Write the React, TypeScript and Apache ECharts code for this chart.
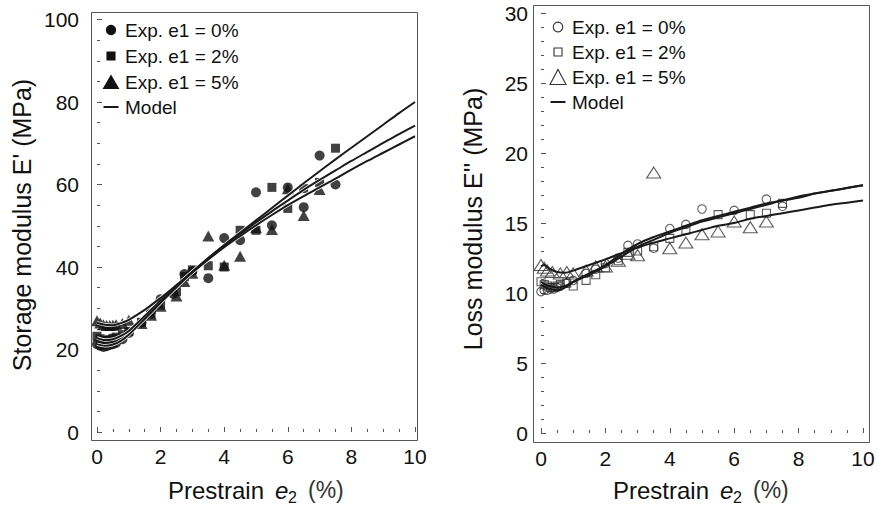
import React, { useEffect, useRef } from "react";
import * as echarts from "echarts";

// ---------- Storage modulus (left) ----------
const xs0L = [0, 0.1, 0.2, 0.3, 0.4, 0.5, 0.6, 0.8, 1.0, 1.4, 1.7, 2.0, 2.4, 2.75, 3.0, 3.5, 4.0, 4.5, 5.0, 5.5, 6.0, 6.5, 7.0, 7.5];
const ys0L = [21.3, 20.9, 20.6, 20.8, 21.1, 21.3, 21.6, 22.5, 24.0, 26.5, 29.3, 32.2, 33.5, 38.3, 39.0, 37.3, 47.0, 46.5, 58.1, 50.1, 59.3, 54.5, 67.0, 60.0];
const xs2L = [0, 0.1, 0.2, 0.3, 0.4, 0.5, 0.6, 0.8, 1.0, 1.4, 1.7, 2.0, 2.5, 2.75, 3.0, 3.5, 4.0, 4.5, 5.0, 5.5, 6.0, 6.5, 7.0, 7.5];
const ys2L = [23.2, 22.6, 22.2, 22.2, 22.4, 22.7, 23.0, 23.6, 24.4, 26.6, 28.6, 30.8, 34.0, 37.7, 39.3, 40.3, 40.0, 48.9, 48.9, 59.3, 54.2, 59.0, 60.5, 68.8];
const xs5L = [0, 0.1, 0.2, 0.3, 0.4, 0.5, 0.6, 0.8, 1.0, 1.4, 1.7, 2.0, 2.5, 2.75, 3.0, 3.5, 4.0, 4.5, 5.0, 5.5, 6.0, 6.5, 7.0];
const ys5L = [27.0, 26.4, 26.0, 25.8, 25.8, 25.9, 26.0, 26.3, 27.1, 26.3, 28.3, 30.5, 33.0, 36.5, 38.5, 47.5, 40.4, 42.6, 49.5, 49.1, 59.0, 52.5, 58.8];

const mxL = [0, 0.25, 0.5, 0.75, 1, 1.5, 2, 2.5, 3, 3.5, 4, 4.5, 5, 5.5, 6, 6.5, 7, 7.5, 8, 8.5, 9, 9.5, 10];
const m0L = [21.3, 20.9, 21.2, 22.1, 23.6, 27.4, 31.3, 35.1, 38.7, 42.1, 45.3, 48.3, 51.3, 54.3, 57.3, 60.3, 63.2, 66.1, 68.9, 71.7, 74.5, 77.3, 80.0];
const m2L = [22.8, 22.3, 22.5, 23.3, 24.5, 28.1, 31.9, 35.5, 38.9, 42.2, 45.2, 48.0, 50.8, 53.5, 56.1, 58.7, 61.1, 63.4, 65.7, 67.9, 70.1, 72.2, 74.3];
const m5L = [26.5, 26.0, 25.9, 26.4, 27.2, 29.6, 32.5, 35.6, 38.7, 41.8, 44.8, 47.5, 50.1, 52.6, 55.0, 57.2, 59.3, 61.4, 63.6, 65.7, 67.7, 69.7, 71.7];

// ---------- Loss modulus (right) ----------
const xs0R = [0, 0.1, 0.2, 0.3, 0.4, 0.5, 0.6, 0.8, 1.0, 1.4, 1.7, 2.0, 2.4, 2.7, 3.0, 3.5, 4.0, 4.5, 5.0, 6.0, 7.0, 7.5];
const ys0R = [10.1, 10.2, 10.2, 10.3, 10.3, 10.4, 10.5, 10.7, 10.9, 11.4, 11.7, 12.1, 12.5, 13.4, 13.5, 13.2, 14.6, 14.9, 16.0, 15.9, 16.7, 16.2];
const xs2R = [0, 0.1, 0.2, 0.3, 0.4, 0.5, 0.6, 0.8, 1.0, 1.4, 1.7, 2.0, 2.4, 2.7, 3.0, 3.5, 4.0, 4.5, 5.5, 6.5, 7.0, 7.5];
const ys2R = [10.8, 10.6, 10.5, 10.4, 10.4, 10.5, 10.6, 10.7, 10.5, 10.9, 11.3, 11.8, 12.3, 12.9, 13.0, 13.3, 13.9, 14.5, 15.6, 15.6, 15.7, 16.4];
const xs5R = [0, 0.1, 0.2, 0.35, 0.6, 0.8, 1.0, 1.4, 1.7, 2.0, 2.4, 2.7, 3.0, 3.5, 4.0, 4.5, 5.0, 5.5, 6.0, 6.5, 7.0];
const ys5R = [12.0, 11.8, 11.6, 11.5, 11.4, 11.5, 11.4, 11.6, 11.9, 11.9, 12.3, 12.8, 12.7, 18.6, 13.2, 13.6, 14.2, 14.4, 15.1, 14.7, 15.1];

const mxR = [0, 0.1, 0.25, 0.5, 0.75, 1, 1.5, 2, 2.5, 3, 3.5, 4, 4.5, 5, 5.5, 6, 6.5, 7, 7.5, 8, 8.5, 9, 9.5, 10];
const m0R = [10.6, 10.45, 10.3, 10.2, 10.4, 10.8, 11.4, 12.0, 12.8, 13.5, 14.0, 14.4, 14.8, 15.2, 15.5, 15.8, 16.1, 16.4, 16.6, 16.9, 17.1, 17.3, 17.5, 17.7];
const m2R = [10.8, 10.65, 10.5, 10.4, 10.5, 10.8, 11.3, 11.9, 12.6, 13.3, 13.8, 14.3, 14.7, 15.1, 15.4, 15.7, 16.0, 16.3, 16.6, 16.8, 17.1, 17.3, 17.5, 17.7];
const m5R = [11.9, 12.0, 11.75, 11.5, 11.45, 11.6, 12.0, 12.4, 12.85, 13.25, 13.6, 13.9, 14.2, 14.5, 14.8, 15.0, 15.3, 15.5, 15.7, 15.9, 16.1, 16.3, 16.45, 16.6];

const xTicks = [0, 2, 4, 6, 8, 10];
const legendLabels = ["Exp. e1 = 0%", "Exp. e1 = 2%", "Exp. e1 = 5%", "Model"];
const yTitleL = "Storage modulus E' (MPa)";
const yTitleR = "Loss modulus E'' (MPa)";

const FONT = "Liberation Sans, Arial, Helvetica, sans-serif";
const INK = "#111";
const AXIS = "#555";

const pairs = (xs: number[], ys: number[]) => xs.map((x, i) => [x, ys[i]]);

function axisX(gridIndex: number, offset: number) {
  return {
    type: "value", gridIndex, min: xTicks[0], max: xTicks[xTicks.length - 1], interval: 2, offset,
    axisLine: { show: false },
    axisTick: { show: true, inside: true, length: 5, lineStyle: { color: AXIS, width: 1 } },
    minorTick: { show: true, splitNumber: 4, length: 3, lineStyle: { color: AXIS, width: 1 } },
    splitLine: { show: false },
    axisLabel: { fontSize: 21, color: INK, margin: 6, fontFamily: FONT },
  };
}
function axisY(gridIndex: number, max: number, interval: number, minorSplit: number, offset: number, margin: number) {
  return {
    type: "value", gridIndex, min: 0, max, interval, offset,
    axisLine: { show: false },
    axisTick: { show: true, inside: true, length: 5, lineStyle: { color: AXIS, width: 1 } },
    minorTick: { show: true, splitNumber: minorSplit, length: 3, lineStyle: { color: AXIS, width: 1 } },
    splitLine: { show: false },
    axisLabel: { fontSize: 21, color: INK, margin, fontFamily: FONT },
  };
}

function scatter(name: string, idx: number, data: number[][], symbol: string, size: any, filled: boolean) {
  return {
    type: "scatter", name, xAxisIndex: idx, yAxisIndex: idx, data, symbol, symbolSize: size, clip: false, z: 3,
    itemStyle: filled
      ? { color: INK }
      : { color: "rgba(255,255,255,0)", borderColor: "#333", borderWidth: 1.1 },
  };
}
function model(idx: number, data: number[][], casing: boolean) {
  const out: any[] = [];
  if (casing) {
    out.push({
      type: "line", name: "casing", xAxisIndex: idx, yAxisIndex: idx, data, smooth: 0.3, symbol: "none", z: 4,
      lineStyle: { color: "#fff", width: 3.4 }, silent: true,
    });
  }
  out.push({
    type: "line", name: "Model", xAxisIndex: idx, yAxisIndex: idx, data, smooth: 0.3, symbol: "none", z: 5,
    lineStyle: { color: "#1a1a1a", width: 2 }, silent: true,
  });
  return out;
}

function legendGraphics(rows: number[], markerX: number, textX: number, filled: boolean, big: boolean) {
  const fill = filled ? INK : "none";
  const stroke = filled ? INK : "#333";
  const g: any[] = [];
  g.push({ type: "circle", shape: { cx: markerX, cy: rows[0], r: big ? 4.8 : 4.6 }, style: { fill, stroke, lineWidth: 1.1 } });
  g.push({ type: "rect", shape: { x: markerX - 4, y: rows[1] - 4, width: 8, height: 8 }, style: { fill, stroke, lineWidth: 1.1 } });
  const tw = big ? 8 : 7.5, th = big ? 7.5 : 6.5;
  g.push({ type: "polygon", shape: { points: [[markerX - tw, rows[2] + th], [markerX + tw, rows[2] + th], [markerX, rows[2] - th]] }, style: { fill, stroke, lineWidth: 1.1 } });
  g.push({ type: "line", shape: { x1: markerX - 7.5, y1: rows[3], x2: markerX + 7.5, y2: rows[3] }, style: { stroke: "#1a1a1a", lineWidth: 2 } });
  legendLabels.forEach((t, i) => {
    g.push({ type: "text", x: textX, y: rows[i], style: { text: t, fontSize: 19, fontFamily: FONT, fill: INK, align: "left", verticalAlign: "middle" } });
  });
  return g;
}

function xTitle(x0: number) {
  return [
    { type: "text", x: x0, y: 490, style: { text: "Prestrain", fontSize: 24, fontFamily: FONT, fill: INK, align: "left", verticalAlign: "middle" } },
    { type: "text", x: x0 + 107, y: 490, style: { text: "e", fontSize: 24, fontStyle: "italic", fontFamily: FONT, fill: INK, align: "left", verticalAlign: "middle" } },
    { type: "text", x: x0 + 120, y: 497, style: { text: "2", fontSize: 16, fontFamily: FONT, fill: INK, align: "left", verticalAlign: "middle" } },
    { type: "text", x: x0 + 140, y: 490, style: { text: "(%)", fontSize: 23, fontFamily: FONT, fill: "#333", align: "left", verticalAlign: "middle" } },
  ];
}

export default function App() {
  const ref = useRef<HTMLDivElement>(null);
  useEffect(() => {
    if (!ref.current) return;
    const chart = echarts.init(ref.current, undefined, { renderer: "svg" });
    const option: any = {
      animation: false,
      backgroundColor: "#fff",
      grid: [
        { left: 97, top: 19.5, width: 318, height: 412.5 },
        { left: 541, top: 13, width: 322, height: 420 },
      ],
      xAxis: [axisX(0, 8), axisX(1, 9)],
      yAxis: [axisY(0, 100, 20, 4, 6, 12), axisY(1, 30, 5, 5, 8, 5)],
      series: [
        scatter("Exp. e1 = 0%", 0, pairs(xs0L, ys0L), "circle", 10, true),
        scatter("Exp. e1 = 2%", 0, pairs(xs2L, ys2L), "rect", 9, true),
        scatter("Exp. e1 = 5%", 0, pairs(xs5L, ys5L), "triangle", [12, 11], true),
        ...model(0, pairs(mxL, m0L), true),
        ...model(0, pairs(mxL, m2L), true),
        ...model(0, pairs(mxL, m5L), true),
        scatter("Exp. e1 = 0%", 1, pairs(xs0R, ys0R), "circle", 8.5, false),
        scatter("Exp. e1 = 2%", 1, pairs(xs2R, ys2R), "rect", 8, false),
        scatter("Exp. e1 = 5%", 1, pairs(xs5R, ys5R), "triangle", [14, 11], false),
        ...model(1, pairs(mxR, m0R), false),
        ...model(1, pairs(mxR, m2R), false),
        ...model(1, pairs(mxR, m5R), false),
      ],
      graphic: [
        { type: "rect", silent: true, z: 10, shape: { x: 91.5, y: 12.5, width: 326, height: 428 }, style: { fill: "none", stroke: AXIS, lineWidth: 1 } },
        { type: "rect", silent: true, z: 10, shape: { x: 533.5, y: 5.5, width: 336, height: 437 }, style: { fill: "none", stroke: AXIS, lineWidth: 1 } },
        ...legendGraphics([30, 56, 82, 107], 111, 125, true, false),
        ...legendGraphics([27, 52, 77, 102], 558, 572, false, true),
        { type: "text", x: 22, y: 225, rotation: Math.PI / 2, style: { text: yTitleL, fontSize: 25, fontFamily: FONT, fill: INK, align: "center", verticalAlign: "middle" } },
        { type: "text", x: 473, y: 219, rotation: Math.PI / 2, style: { text: yTitleR, fontSize: 25, fontFamily: FONT, fill: INK, align: "center", verticalAlign: "middle" } },
        ...xTitle(168),
        ...xTitle(613),
      ],
    };
    chart.setOption(option);
    return () => chart.dispose();
  }, []);
  return (
    <div
      ref={ref}
      style={{ position: "fixed", left: 0, top: 0, width: 879, height: 510, background: "#fff" }}
    />
  );
}
